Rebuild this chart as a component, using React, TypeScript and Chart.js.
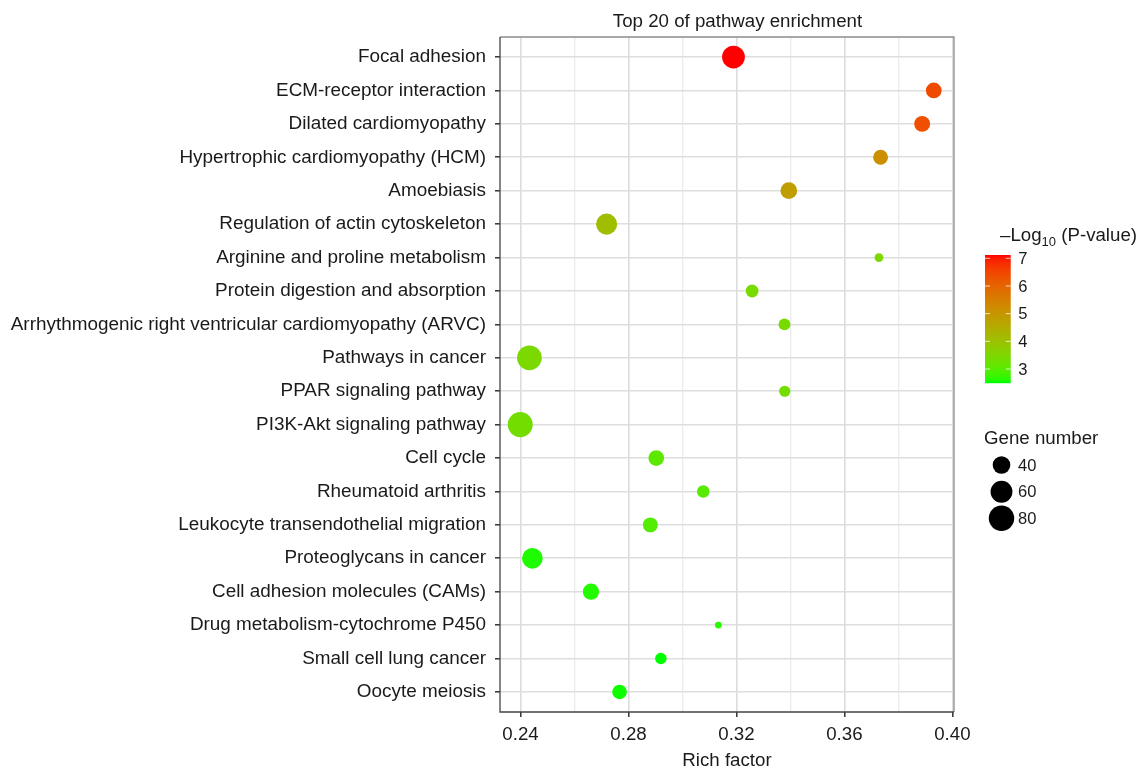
import React, { useEffect, useRef } from "react";
import { Chart, registerables } from "chart.js";

Chart.register(...registerables);

// ---------- data ----------
const pathways = [
  "Focal adhesion",
  "ECM-receptor interaction",
  "Dilated cardiomyopathy",
  "Hypertrophic cardiomyopathy (HCM)",
  "Amoebiasis",
  "Regulation of actin cytoskeleton",
  "Arginine and proline metabolism",
  "Protein digestion and absorption",
  "Arrhythmogenic right ventricular cardiomyopathy (ARVC)",
  "Pathways in cancer",
  "PPAR signaling pathway",
  "PI3K-Akt signaling pathway",
  "Cell cycle",
  "Rheumatoid arthritis",
  "Leukocyte transendothelial migration",
  "Proteoglycans in cancer",
  "Cell adhesion molecules (CAMs)",
  "Drug metabolism-cytochrome P450",
  "Small cell lung cancer",
  "Oocyte meiosis",
];

const richFactor = [
  0.3189, 0.3931, 0.3888, 0.3734, 0.3394, 0.2719, 0.3728, 0.3258, 0.3378, 0.2433,
  0.3379, 0.2399, 0.2903, 0.3077, 0.2881, 0.2444, 0.2661, 0.3133, 0.292, 0.2767,
];

const negLog10P = [
  7.12, 6.45, 6.35, 5.15, 4.85, 4.12, 3.5, 3.42, 3.42, 3.45,
  3.35, 3.35, 3.07, 3.0, 2.98, 2.6, 2.62, 2.65, 2.52, 2.55,
];

const geneNumber = [
  65, 32, 33, 29, 36, 56, 11, 22, 19, 76,
  17, 78, 32, 21, 29, 54, 34, 7, 18, 28,
];

const xTicks = [0.24, 0.26, 0.28, 0.3, 0.32, 0.34, 0.36, 0.38, 0.4];
const xLabelTicks = [0.24, 0.28, 0.32, 0.36, 0.4];
const colorTicks = [3, 4, 5, 6, 7];
const colorLimits = [2.52, 7.12];
const sizeBreaks = [40, 60, 80];

// ---------- styling helpers ----------
const FONT = "'Liberation Sans', Arial, Helvetica, sans-serif";
const TEXT = "#1a1a1a";
const LOW = [0, 255, 0];
const HIGH = [255, 0, 0];
const GAMMA = 1.2;

function toLin(c: number) {
  c /= 255;
  return c <= 0.04045 ? c / 12.92 : Math.pow((c + 0.055) / 1.055, 2.4);
}
function toSrgb(c: number) {
  const v = c <= 0.0031308 ? 12.92 * c : 1.055 * Math.pow(Math.max(c, 0), 1 / 2.4) - 0.055;
  const cl = Math.min(1, Math.max(0, v));
  return Math.round(Math.pow(cl, GAMMA) * 255);
}
const Xn = 0.95047, Yn = 1.0, Zn = 1.08883;
function rgbToLab(rgb: number[]) {
  const R = toLin(rgb[0]), G = toLin(rgb[1]), B = toLin(rgb[2]);
  const X = 0.4124 * R + 0.3576 * G + 0.1805 * B;
  const Y = 0.2126 * R + 0.7152 * G + 0.0722 * B;
  const Z = 0.0193 * R + 0.1192 * G + 0.9505 * B;
  const f = (t: number) => (t > 0.008856 ? Math.cbrt(t) : 7.787 * t + 16 / 116);
  const fx = f(X / Xn), fy = f(Y / Yn), fz = f(Z / Zn);
  return [116 * fy - 16, 500 * (fx - fy), 200 * (fy - fz)];
}
function labToRgb(L: number, a: number, b: number) {
  const fy = (L + 16) / 116;
  const fx = fy + a / 500;
  const fz = fy - b / 200;
  const inv = (t: number) => (t * t * t > 0.008856 ? t * t * t : (t - 16 / 116) / 7.787);
  const X = Xn * inv(fx), Y = Yn * inv(fy), Z = Zn * inv(fz);
  const R = 3.2406 * X - 1.5372 * Y - 0.4986 * Z;
  const G = -0.9689 * X + 1.8758 * Y + 0.0415 * Z;
  const B = 0.0557 * X - 0.204 * Y + 1.057 * Z;
  return `rgb(${toSrgb(R)},${toSrgb(G)},${toSrgb(B)})`;
}
const labLow = rgbToLab(LOW);
const labHigh = rgbToLab(HIGH);
function colorFor(v: number) {
  let t = (v - colorLimits[0]) / (colorLimits[1] - colorLimits[0]);
  t = Math.min(1, Math.max(0, t));
  return labToRgb(
    labLow[0] + (labHigh[0] - labLow[0]) * t,
    labLow[1] + (labHigh[1] - labLow[1]) * t,
    labLow[2] + (labHigh[2] - labLow[2]) * t
  );
}
function radiusFor(n: number) {
  return (2.95 * Math.sqrt(n) - 1) / 2;
}
const isLabelTick = (v: number) => xLabelTicks.some((t) => Math.abs(t - v) < 1e-6);

// ---------- decorations plugin ----------
const decorations = {
  id: "decorations",
  afterDatasetsDraw(chart: any) {
    const ctx = chart.ctx;
    const { left, right, top, bottom } = chart.chartArea;
    ctx.save();
    // panel border
    ctx.lineWidth = 1.3;
    ctx.strokeStyle = "#8c8c8c";
    ctx.beginPath();
    ctx.moveTo(left, top);
    ctx.lineTo(right, top);
    ctx.lineTo(right, bottom);
    ctx.stroke();
    ctx.strokeStyle = "#444";
    ctx.beginPath();
    ctx.moveTo(left, top);
    ctx.lineTo(left, bottom);
    ctx.lineTo(right, bottom);
    ctx.stroke();

    ctx.fillStyle = TEXT;
    // title
    ctx.font = `18.7px ${FONT}`;
    ctx.textAlign = "center";
    ctx.textBaseline = "alphabetic";
    ctx.fillText("Top 20 of pathway enrichment", 737.5, 26.5);
    // x axis title
    ctx.fillText("Rich factor", (left + right) / 2, 766);

    // colour legend title
    ctx.textAlign = "left";
    let x = 1000;
    ctx.font = `18.7px ${FONT}`;
    ctx.fillText("\u2013Log", x, 241);
    x += ctx.measureText("\u2013Log").width;
    ctx.font = `13px ${FONT}`;
    ctx.fillText("10", x, 245.5);
    x += ctx.measureText("10").width;
    ctx.font = `18.7px ${FONT}`;
    ctx.fillText(" (P-value)", x, 241);

    // colour bar
    const barL = 985, barR = 1010.7, barT = 255, barB = 382.3;
    const h = barB - barT;
    for (let i = 0; i < h; i++) {
      const v = colorLimits[1] - ((i + 0.5) / h) * (colorLimits[1] - colorLimits[0]);
      ctx.fillStyle = colorFor(v);
      ctx.fillRect(barL, barT + i, barR - barL, 1.2);
    }
    const yOf = (v: number) =>
      barT + ((colorLimits[1] - v) / (colorLimits[1] - colorLimits[0])) * h;
    ctx.strokeStyle = "rgba(255,255,255,0.75)";
    ctx.lineWidth = 1;
    colorTicks.forEach((v) => {
      const y = yOf(v);
      ctx.beginPath();
      ctx.moveTo(barL, y);
      ctx.lineTo(barL + 5, y);
      ctx.moveTo(barR - 5, y);
      ctx.lineTo(barR, y);
      ctx.stroke();
    });
    ctx.fillStyle = TEXT;
    ctx.font = `16.5px ${FONT}`;
    ctx.textBaseline = "middle";
    colorTicks.forEach((v) => {
      ctx.fillText(String(v), 1018.3, yOf(v) + 1);
    });

    // size legend
    ctx.font = `18.7px ${FONT}`;
    ctx.textBaseline = "alphabetic";
    ctx.fillText("Gene number", 984, 444);
    const ys = [465, 491.7, 518.3];
    sizeBreaks.forEach((n, i) => {
      ctx.fillStyle = "#000";
      ctx.beginPath();
      ctx.arc(1001.5, ys[i], radiusFor(n), 0, Math.PI * 2);
      ctx.fill();
      ctx.fillStyle = TEXT;
      ctx.font = `16.5px ${FONT}`;
      ctx.textBaseline = "middle";
      ctx.fillText(String(n), 1018, ys[i] + 1);
    });
    ctx.restore();
  },
};

export default function App() {
  const canvasRef = useRef<HTMLCanvasElement | null>(null);

  useEffect(() => {
    const canvas = canvasRef.current;
    if (!canvas) return;
    const chart = new Chart(canvas, {
      type: "scatter",
      data: {
        datasets: [
          {
            data: richFactor.map((x, i) => ({ x, y: i })),
            pointRadius: (c: any) => radiusFor(geneNumber[c.dataIndex]),
            pointHoverRadius: (c: any) => radiusFor(geneNumber[c.dataIndex]),
            pointBackgroundColor: (c: any) => colorFor(negLog10P[c.dataIndex]),
            pointBorderWidth: 0,
            pointBorderColor: "rgba(0,0,0,0)",
          } as any,
        ],
      },
      options: {
        animation: false,
        responsive: false,
        events: [],
        layout: { padding: { top: 37, right: 188, left: 0, bottom: 0 } },
        plugins: {
          legend: { display: false },
          tooltip: { enabled: false },
          title: { display: false },
        },
        scales: {
          x: {
            type: "linear",
            position: "bottom",
            min: 0.2324,
            max: 0.4006,
            afterBuildTicks: (scale: any) => {
              scale.ticks = xTicks.map((v) => ({ value: v }));
            },
            afterFit: (scale: any) => {
              scale.height = 56;
            },
            border: { display: false },
            grid: {
              color: (c: any) =>
                c.tick && isLabelTick(c.tick.value) ? "#dcdcdc" : "#ebebeb",
              lineWidth: (c: any) => (c.tick && isLabelTick(c.tick.value) ? 1.6 : 1.3),
              tickColor: (c: any) =>
                c.tick && isLabelTick(c.tick.value) ? "#333" : "rgba(0,0,0,0)",
              tickLength: 5,
              tickWidth: 1.5,
              drawTicks: true,
            },
            ticks: {
              autoSkip: false,
              maxRotation: 0,
              padding: 7,
              color: TEXT,
              font: { family: FONT, size: 18.7 },
              callback: (v: any) => {
                const n = Number(v);
                return isLabelTick(n) ? n.toFixed(2) : "";
              },
            },
          },
          y: {
            type: "linear",
            position: "left",
            reverse: true,
            min: -0.6,
            max: 19.6,
            afterBuildTicks: (scale: any) => {
              scale.ticks = pathways.map((_, i) => ({ value: i }));
            },
            afterFit: (scale: any) => {
              scale.width = 500;
            },
            border: { display: false },
            grid: {
              color: "#dedede",
              lineWidth: 1.6,
              tickColor: "#333",
              tickLength: 5,
              tickWidth: 1.5,
            },
            ticks: {
              autoSkip: false,
              padding: 9,
              color: TEXT,
              font: { family: FONT, size: 18.9 },
              callback: (_v: any, index: number) => pathways[index],
            },
          },
        },
      },
      plugins: [decorations],
    } as any);
    return () => chart.destroy();
  }, []);

  return (
    <div
      style={{
        position: "fixed",
        left: 0,
        top: 0,
        width: 1142,
        height: 768,
        background: "#fff",
      }}
    >
      <canvas ref={canvasRef} width={1142} height={768} />
    </div>
  );
}
